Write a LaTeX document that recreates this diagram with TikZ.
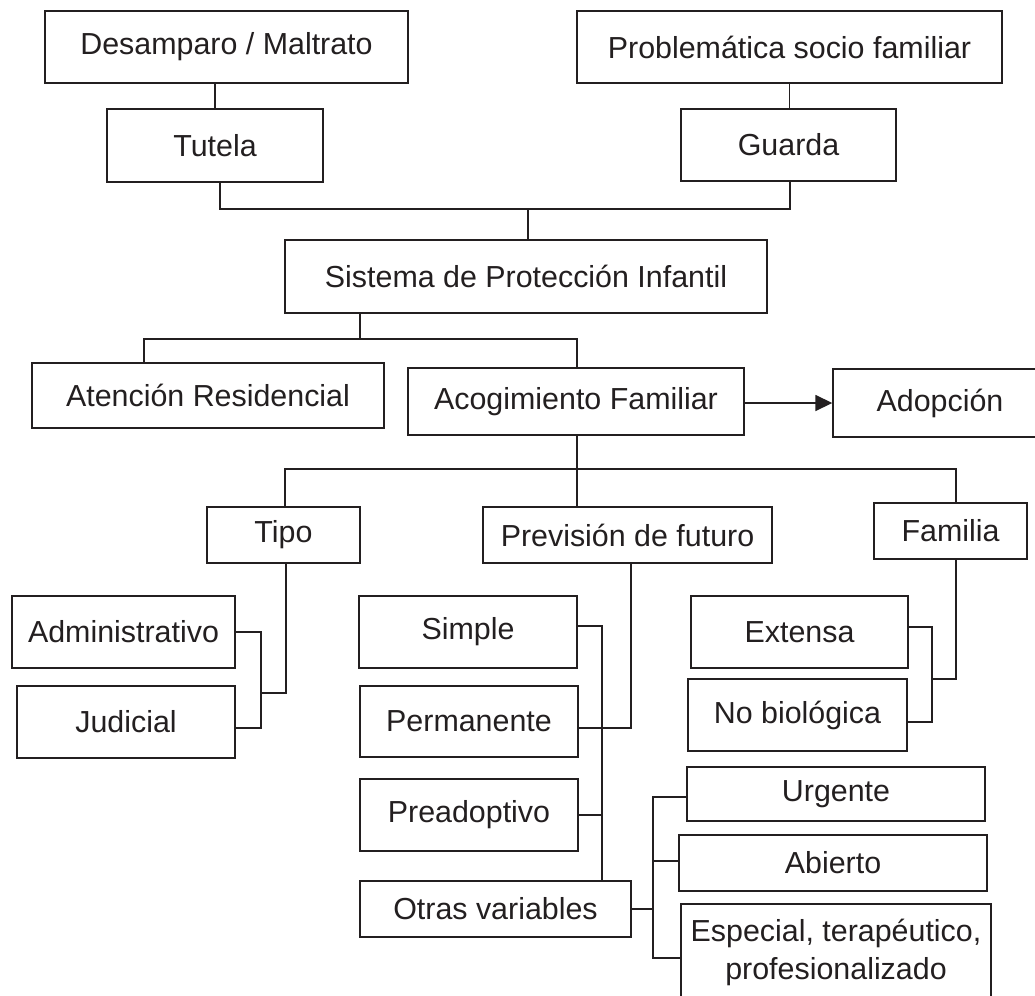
\documentclass[tikz,border=0pt]{standalone}
\usepackage{fontspec}
\setmainfont{Liberation Sans}
\usetikzlibrary{arrows.meta}
\definecolor{ink}{HTML}{231F20}
\tikzset{
  box/.style={draw=ink, line width=1.4pt, text=ink, inner sep=0pt, align=center,
    font=\fontsize{30.4}{38}\selectfont, fill=white},
  conn/.style={draw=ink, line width=1.6pt},
}
\newcommand{\bx}[7]{\node[box, minimum width=#4pt, minimum height=#5pt] (#1) at (#2,#3) {#7};}
\begin{document}
\begin{tikzpicture}[x=1pt, y=-1pt]
\useasboundingbox[fill=white] (0,0) rectangle (1035,995);
% boxes: name, cx, cy, w, h
\bx{desamp}{226.5}{47}{363}{72}{}{Desamparo / Maltrato}
\bx{problem}{789.5}{47}{425}{72}{}{Problemática socio familiar}
\bx{tutela}{215}{145.5}{216}{73}{}{Tutela}
\bx{guarda}{788.5}{145}{215}{72}{}{Guarda}
\bx{sistema}{526}{276.5}{482}{73}{}{Sistema de Protección Infantil}
\bx{atencion}{208}{395.5}{352}{65}{}{Atención Residencial}
\bx{acog}{576}{401.5}{336}{67}{}{Acogimiento Familiar}
\bx{adop}{940}{403}{214}{68}{}{Adopción}
\bx{tipo}{283.5}{535}{153}{56}{}{Tipo}
\bx{prev}{627.5}{535}{289}{56}{}{Previsión de futuro}
\bx{familia}{950.5}{531}{153}{56}{}{Familia}
\bx{admin}{123.5}{632}{223}{72}{}{Administrativo}
\bx{judicial}{126}{722}{218}{72}{}{Judicial}
\bx{simple}{468}{632}{218}{72}{}{Simple}
\bx{perman}{469}{721.5}{218}{71}{}{Permanente}
\bx{preadop}{469}{815}{218}{72}{}{Preadoptivo}
\bx{otras}{495.5}{909}{271}{56}{}{Otras variables}
\bx{extensa}{799.5}{632}{217}{72}{}{Extensa}
\bx{nobio}{797.5}{715}{219}{72}{}{No biológica}
\bx{urgente}{836}{794}{298}{54}{}{Urgente}
\bx{abierto}{833}{863}{308}{56}{}{Abierto}
\bx{especial}{836}{952}{310}{96}{}{Especial, terapéutico,\\profesionalizado}
% junctions
\coordinate (j1) at (528,209);
\coordinate (j2) at (360,339);
\coordinate (j3) at (144,339);
\coordinate (j4) at (577,469);
\coordinate (t1) at (261,693);
\coordinate (sv) at (602,881);
\coordinate (f1) at (932,679);
\coordinate (o1) at (653,909);
% top
\draw[conn] (tutela.north) -- (tutela.north |- desamp.south);
\draw[conn] ([xshift=1pt]guarda.north) -- ([xshift=1pt]guarda.north |- problem.south);
\draw[conn] ([xshift=5pt]tutela.south) |- (j1) -| ([xshift=1.5pt]guarda.south);
\draw[conn] (j1) -- (j1 |- sistema.north);
% sistema
\draw[conn] (j2) -- (j2 |- sistema.south);
\draw[conn] (j3 |- atencion.north) -- (j3) -| ([xshift=1pt]acog.north);
\draw[conn, -{Triangle[length=17pt, width=16pt]}] ([yshift=-1.5pt]acog.east) -- ([yshift=-1.5pt]acog.east -| adop.west);
% acogimiento
\draw[conn] ([xshift=1pt]acog.south) -- ([xshift=1pt]acog.south |- prev.north);
\draw[conn] ([xshift=1.5pt]tipo.north) |- (j4) -| ([xshift=5.5pt]familia.north);
% tipo
\draw[conn] ([xshift=2.5pt]tipo.south) |- (t1);
\draw[conn] (admin.east) -| (t1);
\draw[conn] ([yshift=-6pt]judicial.east) -| (t1);
% prevision
\draw[conn] ([xshift=3.5pt]prev.south) |- ([yshift=-6.5pt]perman.east);
\draw[conn] ([yshift=6pt]simple.east) -| (sv);
\draw[conn] (preadop.east) -- (preadop.east -| sv);
% familia
\draw[conn] ([xshift=5.5pt]familia.south) |- (f1);
\draw[conn] ([yshift=5pt]extensa.east) -| (f1);
\draw[conn] ([yshift=-7pt]nobio.east) -| (f1);
% otras
\draw[conn] (otras.east) -- (o1);
\draw[conn] ([yshift=-3pt]urgente.west) -| (o1);
\draw[conn] ([yshift=2pt]abierto.west) -| (o1);
\draw[conn] ([yshift=-6pt]especial.west) -| (o1);
\end{tikzpicture}
\end{document}
